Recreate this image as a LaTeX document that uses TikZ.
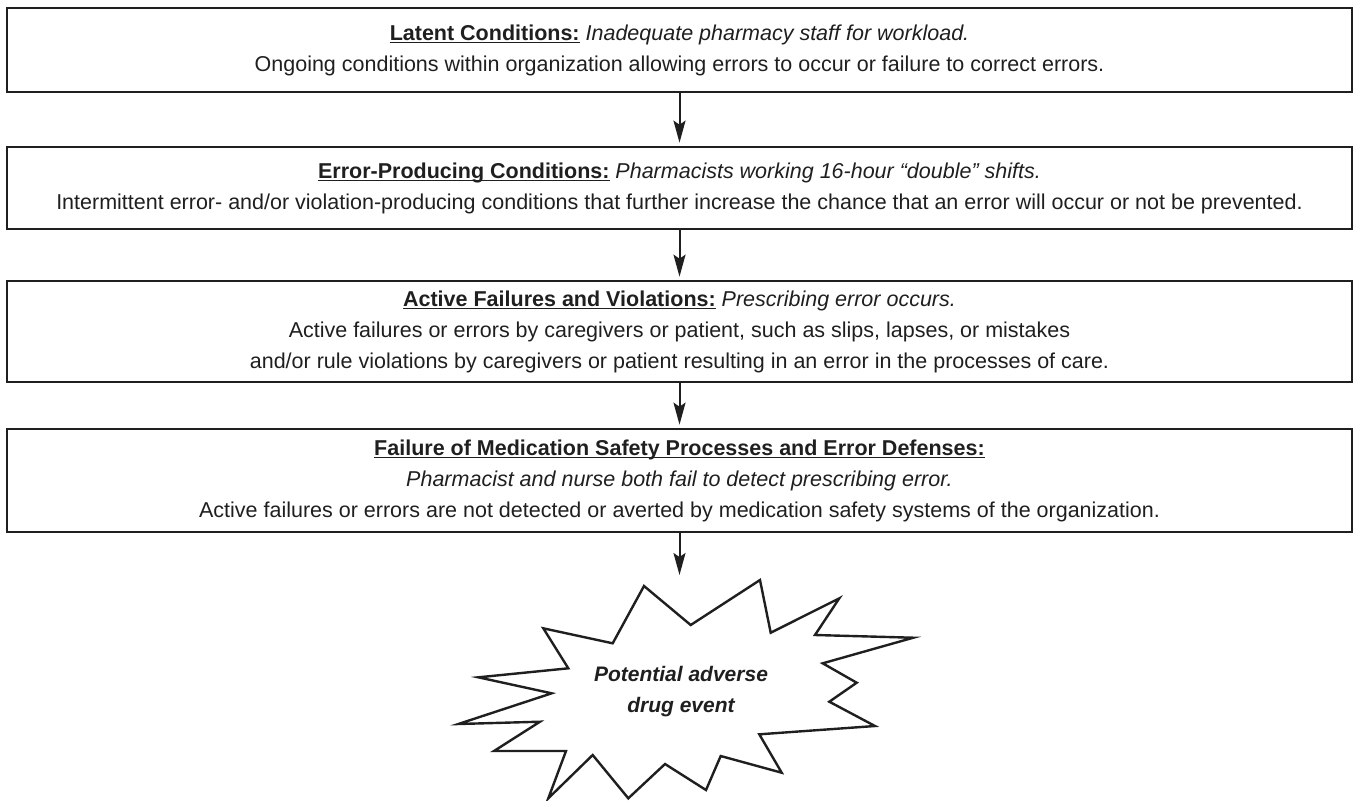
\documentclass[tikz,border=0pt]{standalone}
\usepackage{fontspec}
\setmainfont{Liberation Sans}
\usetikzlibrary{positioning,arrows.meta}

\colorlet{ink}{black!88}
\tikzset{
  stage/.style={draw=ink, line width=1.35pt, minimum width=672.5pt, inner sep=0pt,
    align=center, text=ink, font=\fontsize{10.75}{15.5}\selectfont},
  flow/.style={draw=ink, line width=1pt, shorten >=1.5pt,
    -{Stealth[length=11pt,width=6pt,inset=2pt]}},
  burst/.style={draw=ink, line width=1.2pt, line join=miter}
}
% bold heading with a close underline
\newcommand{\hd}[1]{\setbox0\hbox{\textbf{#1}}\rlap{\rule[-1.5pt]{\wd0}{0.6pt}}\box0\relax}

\begin{document}
\begin{tikzpicture}
        \useasboundingbox (0,0) rectangle (677.5pt,-400pt);
        \node[stage, minimum height=42pt] (latent) at (339.75pt,-25pt)
        {\hd{Latent Conditions:} \textit{Inadequate pharmacy staff for workload.}\\
        Ongoing conditions within organization allowing errors to occur or failure to correct errors.};
        \node[stage, minimum height=41pt, below=26.15pt of latent] (producing)
        {\hd{Error-Producing Conditions:} \textit{Pharmacists working 16-hour “double” shifts.}\\
        Intermittent error- and/or violation-producing conditions that further increase the chance that an error will occur or not be prevented.};
        \node[stage, minimum height=50.5pt, below=24.65pt of producing] (active)
        {\hd{Active Failures and Violations:} \textit{Prescribing error occurs.}\\
        Active failures or errors by caregivers or patient, such as slips, lapses, or mistakes\\
        and/or rule violations by caregivers or patient resulting in an error in the processes of care.};
        \node[stage, minimum height=51.5pt, below=22.15pt of active] (defense)
        {\hd{Failure of Medication Safety Processes and Error Defenses:}\\
        \textit{Pharmacist and nurse both fail to detect prescribing error.}\\
        Active failures or errors are not detected or averted by medication safety systems of the organization.};

        % starburst, drawn in pixel units
        \begin{scope}[x=0.5pt, y=-0.5pt]
        \draw[burst] (644,586) -- (690.7,625) -- (760,580) -- (770.7,632.7) -- (839.3,598.3)
          -- (815,635) -- (913.3,637.7) -- (822.7,663.3) -- (856.7,682.7) -- (829.3,701.7)
          -- (875,726) -- (759.3,734.3) -- (781.7,772.7) -- (720.7,756) -- (706,790)
          -- (665,764) -- (628.3,798.3) -- (592.7,755) -- (548.3,798.3) -- (566,751)
          -- (494,751) -- (540,721.7) -- (458.3,724) -- (551.7,693.3) -- (478.3,677.3)
          -- (568.3,668.3) -- (543.3,628.3) -- (612.7,643.3) -- cycle;
        \coordinate (eventtop) at (679.5,578);
        \node[align=center, text=ink, font=\fontsize{10.5}{15.5}\selectfont\bfseries\itshape]
          (event) at (681,692) {Potential adverse\\drug event};
        \end{scope}

        \draw[flow] (latent) -- (producing);
        \draw[flow] (producing) -- (active);
        \draw[flow] (active) -- (defense);
        \draw[flow] (defense) -- (eventtop);
\end{tikzpicture}
\end{document}
